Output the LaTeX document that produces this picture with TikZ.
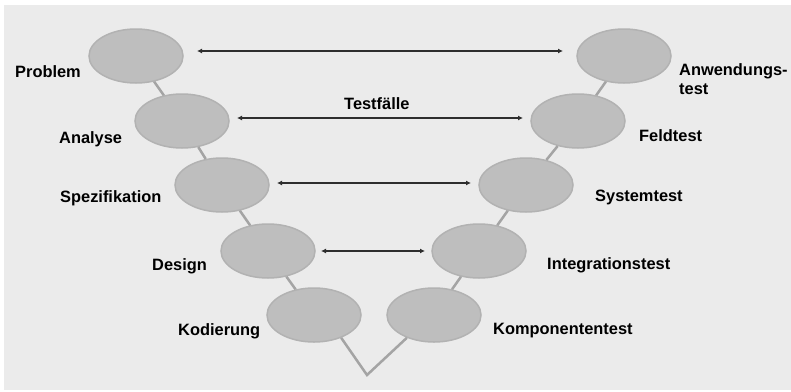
\documentclass[tikz,border=0pt]{standalone}
\usepackage{fontspec}
\setmainfont{Liberation Sans}
\usetikzlibrary{shapes.geometric,arrows.meta}
\definecolor{panel}{HTML}{EBEBEB}
\definecolor{phasefill}{HTML}{BEBEBE}
\definecolor{phaseedge}{HTML}{B2B2B2}
\definecolor{linkgray}{HTML}{A4A4A4}
\definecolor{arrowdark}{HTML}{2E2E2E}
\begin{document}
\begin{tikzpicture}[x=1pt,y=-1pt,
  phase/.style={ellipse,fill=phasefill,draw=phaseedge,line width=1.5pt,
    minimum width=94pt,minimum height=54pt,inner sep=0pt},
  lbl/.style={anchor=west,inner sep=0pt,font=\fontsize{16.4}{18}\selectfont\bfseries,
    text height=11.5pt,text depth=0pt,align=left},
  link/.style={draw=linkgray,line width=2.5pt},
  testarrow/.style={draw=arrowdark,line width=1.7pt,
    {Latex[length=5pt,width=5pt]}-{Latex[length=5pt,width=5pt]}}]
  % page and panel
  \fill[white] (0,0) rectangle (791,391);
  \useasboundingbox (0,0) rectangle (791,391);
  \fill[panel] (4,5) rectangle (791,390);

  % left branch of the V
  \node[phase] (prob) at (136,56)  {};
  \node[phase] (ana)  at (182,121) {};
  \node[phase] (spez) at (222,185) {};
  \node[phase] (des)  at (268,251) {};
  \node[phase] (kod)  at (314,315) {};
  % right branch of the V
  \node[phase] (komp) at (434,315) {};
  \node[phase] (integ) at (479,251) {};
  \node[phase] (sys)  at (526,185) {};
  \node[phase] (feld) at (578,121) {};
  \node[phase] (anw)  at (624,56)  {};

  % links along the V
  \draw[link] (prob) -- (ana);
  \draw[link] (ana) -- (spez);
  \draw[link] (spez) -- (des);
  \draw[link] (des) -- (kod);
  \draw[link] (komp) -- (integ);
  \draw[link] (integ) -- (sys);
  \draw[link] (sys) -- (feld);
  \draw[link] (feld) -- (anw);
  \coordinate (apex) at (367,375);
  \draw[link,line join=miter] (kod.-40) -- (apex) -- (komp.-140);

  % test case arrows
  \coordinate (a1l) at (197,51);  \coordinate (a1r) at (563,51);
  \coordinate (a2l) at (237,118); \coordinate (a2r) at (523,118);
  \coordinate (a3l) at (277,183); \coordinate (a3r) at (471,183);
  \coordinate (a4l) at (321,251); \coordinate (a4r) at (425,251);
  \draw[testarrow] (a1l) -- (a1r);
  \draw[testarrow] (a2l) -- (a2r);
  \draw[testarrow] (a3l) -- (a3r);
  \draw[testarrow] (a4l) -- (a4r);
  \node[lbl] (tf) at (344,104) {Testfälle};

  % phase labels
  \node[lbl] (lprob) at (15,72)  {Problem};
  \node[lbl] (lana)  at (59,138) {Analyse};
  \node[lbl] (lspez) at (60,197) {Spezifikation};
  \node[lbl] (ldes)  at (152,265) {Design};
  \node[lbl] (lkod)  at (178,330) {Kodierung};
  \node[lbl] (lkomp) at (493,329) {Komponententest};
  \node[lbl] (linteg) at (547,264) {Integrationstest};
  \node[lbl] (lsys)  at (595,196) {Systemtest};
  \node[lbl] (lfeld) at (639,136) {Feldtest};
  \node[lbl] (lanw1) at (679,70) {Anwendungs-};
  \node[lbl] (lanw2) at (679,89) {test};
\end{tikzpicture}
\end{document}
